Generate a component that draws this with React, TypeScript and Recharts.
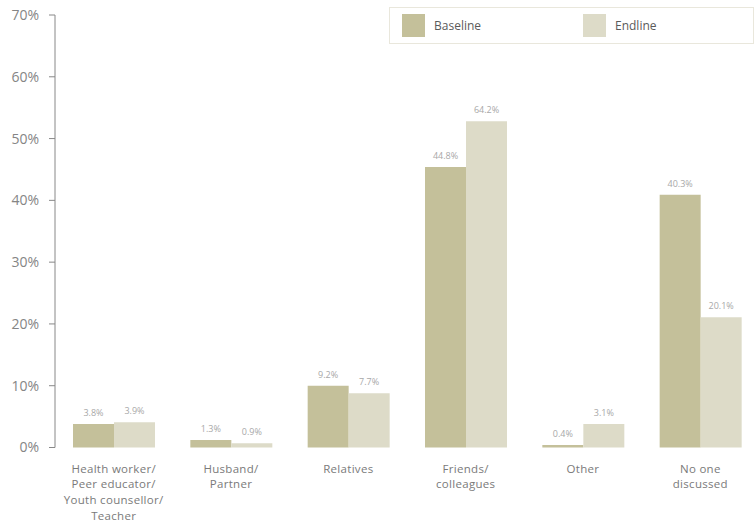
import React from "react";
import { BarChart, Bar, XAxis, YAxis, LabelList, Legend } from "recharts";

const categories = [
  "Health worker/\nPeer educator/\nYouth counsellor/\nTeacher",
  "Husband/\nPartner",
  "Relatives",
  "Friends/\ncolleagues",
  "Other",
  "No one\ndiscussed",
];
const baselineValues = [3.8, 1.2, 10.0, 45.4, 0.4, 40.9];
const endlineValues = [4.1, 0.7, 8.8, 52.8, 3.8, 21.1];
const baselineLabels = ["3.8%", "1.3%", "9.2%", "44.8%", "0.4%", "40.3%"];
const endlineLabels = ["3.9%", "0.9%", "7.7%", "64.2%", "3.1%", "20.1%"];
const yTicks = [0, 10, 20, 30, 40, 50, 60, 70];
const boundaryTicks = [0, 1, 2, 3, 4, 5, 6];

const BASE = "#c4c09a";
const END = "#dddbc8";
const FONT = "'Open Sans', sans-serif";

const data = categories.map((c, i) => ({
  cat: c,
  baseline: baselineValues[i],
  endline: endlineValues[i],
  bLabel: baselineLabels[i],
  eLabel: endlineLabels[i],
}));

const CatTick = (props: any) => {
  const { x, y, payload } = props;
  const lines = String(payload.value).split("\n");
  return (
    <g>
      {lines.map((l, i) => (
        <text
          key={i}
          x={x}
          y={y + 25 + i * 15.7}
          textAnchor="middle"
          fill="#7a7a7a"
          fontSize={11.5}
          letterSpacing={0.3}
          fontFamily={FONT}
        >
          {l}
        </text>
      ))}
    </g>
  );
};

const LegendBox = () => (
  <div style={{ position: "relative", height: 0, width: 365 }}>
    <div
      style={{
        position: "absolute",
        left: 0,
        top: 0,
        width: 365,
        height: 37,
        boxSizing: "border-box",
        border: "1px solid #e9e7dc",
        fontFamily: FONT,
        fontSize: 12,
        color: "#5a5a5a",
        background: "#fff",
      }}
    >
      {[
        { name: "Baseline", color: BASE, left: 12 },
        { name: "Endline", color: END, left: 193 },
      ].map((it) => (
        <div
          key={it.name}
          style={{
            position: "absolute",
            left: it.left,
            top: 6,
            display: "flex",
            alignItems: "center",
            height: 23,
          }}
        >
          <div style={{ width: 23, height: 23, background: it.color }} />
          <span style={{ marginLeft: 9 }}>{it.name}</span>
        </div>
      ))}
    </div>
  </div>
);

export default function App() {
  return (
    <div
      style={{
        position: "absolute",
        left: 0,
        top: 0,
        width: 755,
        height: 523,
        overflow: "hidden",
        background: "#fff",
      }}
    >
      <BarChart
        width={760}
        height={523}
        data={data}
        margin={{ top: 15, right: 1, left: 0, bottom: 15.5 }}
        barCategoryGap={18}
        barGap={0}
      >
        <XAxis
          xAxisId="ticks"
          type="number"
          domain={[0, 6]}
          ticks={boundaryTicks}
          allowDataOverflow
          height={0}
          tick={false}
          tickSize={7}
          tickLine={{ stroke: "#888" }}
          axisLine={{ stroke: "#888" }}
        />
        <XAxis
          xAxisId="cat"
          dataKey="cat"
          height={60}
          interval={0}
          tickLine={false}
          axisLine={false}
          tickSize={0}
          tickMargin={0}
          tick={<CatTick />}
        />
        <YAxis
          width={55}
          domain={[0, 70]}
          ticks={yTicks}
          interval={0}
          tickFormatter={(v: number) => `${v}%`}
          tickSize={6}
          tickMargin={10}
          tickLine={{ stroke: "#888" }}
          axisLine={{ stroke: "#888" }}
          tick={{ fill: "#858585", fontSize: 14, fontFamily: FONT }}
        />
        <Legend
          verticalAlign="top"
          align="left"
          content={() => <LegendBox />}
          wrapperStyle={{ position: "absolute", left: 389, top: 7, width: 365, height: 0 }}
        />
        <Bar xAxisId="cat" dataKey="baseline" fill={BASE} isAnimationActive={false}>
          <LabelList
            dataKey="bLabel"
            position="top"
            offset={8}
            fill="#a8a8a8"
            fontSize={9}
            fontFamily={FONT}
          />
        </Bar>
        <Bar xAxisId="cat" dataKey="endline" fill={END} isAnimationActive={false}>
          <LabelList
            dataKey="eLabel"
            position="top"
            offset={8}
            fill="#a8a8a8"
            fontSize={9}
            fontFamily={FONT}
          />
        </Bar>
      </BarChart>
    </div>
  );
}
